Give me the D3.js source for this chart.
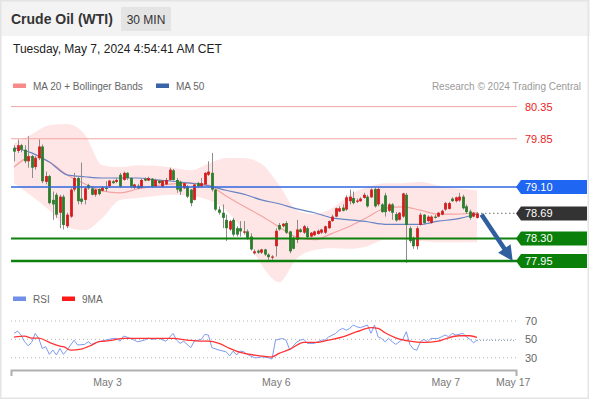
<!DOCTYPE html>
<html><head><meta charset="utf-8">
<script src="https://cdn.jsdelivr.net/npm/d3@7"></script>
<style>body{margin:0;background:#fff}svg{display:block;font-family:"Liberation Sans",Arial,sans-serif}</style>
</head><body><svg id="c" width="590" height="400"></svg>
<script>
// ---- candle data (30 min) ----
const open = [79.71,79.66,79.75,79.68,79.50,79.58,79.41,79.55,79.73,79.18,79.27,78.90,78.98,78.70,78.95,78.49,78.64,79.06,79.24,78.92,78.90,79.13,79.08,78.98,79.07,79.04,79.09,79.11,79.19,79.18,79.29,79.21,79.32,79.24,79.09,79.12,79.09,79.23,79.20,79.23,79.11,79.20,79.11,79.14,79.21,79.36,79.21,79.18,79.08,79.11,79.06,78.90,79.16,79.11,79.14,79.29,79.32,79.06,78.75,78.70,78.59,78.44,78.59,78.46,78.46,78.39,78.41,78.33,78.07,78.11,78.08,78.13,78.05,78.00,78.18,78.51,78.49,78.54,78.41,78.31,78.28,78.44,78.39,78.46,78.33,78.35,78.37,78.39,78.39,78.46,78.57,78.64,78.72,78.78,78.75,78.88,78.93,78.87,78.88,78.93,78.95,78.94,79.07,78.83,78.83,78.97,78.73,78.83,78.68,78.59,78.64,78.98,78.46,78.31,78.18,78.51,78.67,78.57,78.54,78.64,78.64,78.67,78.75,78.76,78.92,78.88,78.89,78.95,78.80,78.72,78.64,78.62];
const high = [79.75,79.84,79.77,79.75,79.89,79.60,79.58,79.84,79.76,79.34,79.29,79.03,79.01,78.98,78.98,78.70,79.08,79.32,79.27,79.48,79.11,79.15,79.11,79.07,79.08,79.11,79.19,79.21,79.21,79.24,79.32,79.34,79.33,79.25,79.15,79.15,79.23,79.25,79.26,79.24,79.23,79.21,79.21,79.24,79.40,79.38,79.24,79.20,79.18,79.13,79.07,79.15,79.18,79.24,79.33,79.50,79.63,79.07,78.80,78.83,78.67,78.59,78.62,78.49,78.57,78.57,78.44,78.38,78.13,78.13,78.14,78.14,78.07,78.04,78.46,78.54,78.54,78.57,78.42,78.33,78.59,78.46,78.51,78.49,78.40,78.42,78.44,78.45,78.50,78.58,78.67,78.78,78.80,78.83,78.97,79.06,79.03,78.92,78.94,79.01,78.98,79.08,79.09,79.09,78.85,79.01,78.85,78.85,78.71,78.71,79.01,79.01,78.49,78.33,78.49,78.70,78.68,78.66,78.66,78.67,78.71,78.75,78.87,78.87,78.94,78.95,79.01,78.98,78.83,78.75,78.71,78.71];
const low = [79.50,79.63,79.64,79.47,79.40,79.24,79.37,79.52,79.16,79.14,78.83,78.59,78.62,78.46,78.44,78.46,78.62,79.03,78.83,78.83,78.83,79.06,78.97,78.95,78.97,79.03,79.03,79.09,79.15,79.16,79.09,79.20,79.21,79.08,79.07,79.07,79.08,79.19,79.19,79.09,79.10,79.15,79.09,79.13,79.20,79.20,79.01,78.98,79.07,78.93,78.80,78.89,79.09,79.10,79.13,79.27,79.03,78.73,78.67,78.46,78.26,78.42,78.33,78.33,78.33,78.36,78.28,78.11,78.05,78.06,78.06,78.03,77.97,77.97,78.02,78.42,78.47,78.37,78.07,78.13,78.23,78.39,78.37,78.31,78.32,78.34,78.36,78.37,78.37,78.45,78.56,78.63,78.71,78.72,78.73,78.83,78.83,78.85,78.87,78.92,78.78,78.93,78.78,78.80,78.70,78.64,78.71,78.59,78.56,78.58,78.62,77.92,78.23,78.14,78.13,78.50,78.52,78.56,78.53,78.61,78.63,78.66,78.73,78.75,78.87,78.86,78.87,78.75,78.68,78.59,78.63,78.61];
const close = [79.65,79.75,79.68,79.50,79.58,79.40,79.55,79.73,79.19,79.27,78.85,78.83,78.67,78.95,78.51,78.67,79.06,79.24,78.88,78.87,79.08,79.08,78.98,79.06,78.99,79.09,79.07,79.20,79.16,79.21,79.11,79.32,79.24,79.11,79.14,79.08,79.21,79.20,79.24,79.11,79.21,79.16,79.20,79.21,79.37,79.21,79.06,79.03,79.16,78.95,78.85,79.14,79.11,79.16,79.32,79.34,79.06,78.75,78.70,78.62,78.46,78.57,78.36,78.36,78.41,78.41,78.31,78.13,78.10,78.08,78.13,78.05,78.01,78.02,78.42,78.44,78.53,78.39,78.10,78.14,78.44,78.40,78.49,78.32,78.39,78.41,78.42,78.44,78.49,78.57,78.64,78.77,78.77,78.73,78.94,78.95,78.85,78.89,78.92,78.98,78.80,79.06,78.80,79.07,78.71,78.71,78.83,78.70,78.58,78.70,79.00,78.51,78.26,78.18,78.46,78.67,78.54,78.64,78.64,78.62,78.70,78.73,78.85,78.85,78.88,78.94,78.95,78.77,78.71,78.62,78.70,78.69];

// ---- indicators (sampled at candle indices) ----
const maIdx   = [0,5,10,15,20,25,30,35,40,45,50,55,60,65,70,75,80,85,90,95,100,105,110,115,120,125,131];
const bbUpper = [79.78,79.92,80.06,80.08,79.92,79.44,79.41,79.44,79.43,79.40,79.36,79.46,79.55,79.55,79.46,79.13,78.74,78.68,78.77,78.98,79.10,79.16,79.16,79.18,79.12,79.08,79.05];
const ma20    = [79.41,79.57,79.49,79.29,79.15,79.04,79.01,79.07,79.12,79.15,79.16,79.13,78.96,78.80,78.65,78.48,78.32,78.28,78.38,78.49,78.63,78.77,78.79,78.74,78.68,78.68,78.70];
const bbLower = [79.16,78.96,78.74,78.48,78.43,78.62,78.90,78.93,78.96,78.98,78.96,78.90,78.74,78.40,77.89,77.62,77.99,78.12,78.15,78.14,78.18,78.28,78.28,78.26,78.24,78.24,78.24];
const ma50    = [79.71,79.63,79.49,79.29,79.26,79.24,79.24,79.24,79.21,79.19,79.16,79.12,79.05,78.99,78.90,78.84,78.76,78.70,78.62,78.59,78.56,78.52,78.52,78.52,78.57,78.60,78.68];

const rsiIdx = [0,1,2,3,4,5,6,7,8,9,10,11,12,13,14,15,16,17,18,20,21,22,24,26,28,29,30,31,33,35,37,38,39,41,43,45,46,47,48,50,51,53,54,55,56,58,60,61,62,63,64,65,66,68,69,70,72,73,74,76,77,78,80,81,82,83,85,87,88,89,91,92,93,94,95,96,97,98,100,101,102,103,104,105,106,107,108,110,111,112,113,114,115,116,117,118,120,121,122,123,124,125,127,128,129,130,131];
const rsi = [56.5,59,54.7,47.4,43,46.7,56.5,51,40,42,33.6,38.3,33,40,33.6,38.3,43.8,49,43.8,44.5,47.4,44.5,47.4,49.2,51,51,48,53.6,51,47.4,49.2,51.4,50,51,48,56.5,49.2,45.6,48,40.9,48,50,55.5,54.7,40.9,38.3,36.5,32,37.2,33,37.2,36.5,33.6,30,30,31,30,28.5,49.2,51,49,38.5,47,49.2,50,45.6,45.6,49.2,49.2,52.5,56.5,60,62,60,62,65.6,63.7,62.7,65.6,56.5,65.6,52.8,51,47.4,51,47.4,44.5,50,58.3,44.5,39.4,38.3,47.4,50,47.4,51,51,52.8,54.7,52.8,56.5,54.7,56.5,52.8,50,46.3,49];
const rsiMaIdx = [0,3,5,7,10,13,14,16,19,22,24,27,31,36,40,45,49,53,55,58,61,64,68,73,75,78,82,86,89,93,97,101,103,105,108,112,116,120,122,126,129,131];
const rsiMa = [52.5,53.6,51.4,51.4,46.7,42.7,42,38.3,39.4,43.8,47.4,48.5,51,51,51,51,49.2,48,48,45.6,40.2,35.8,32.9,31,34.7,39,46.7,46.7,49.2,52.8,58.3,62.7,62,57.2,51.7,48,46.7,48,50.5,53.9,53.9,52.2];
const rsiLevels = [70, 50, 30];

// ---- levels & axis ----
const levelValues = [80.35, 79.85, 79.10, 78.69, 78.30, 77.95];
const levelKinds  = ['res', 'res', 'pivot', 'last', 'sup', 'sup'];
const targetValue = 77.95;
const tickPos    = [26.3, 74.1, 122, 141.1];
const tickLabels = ['May 3', 'May 6', 'May 7', 'May 17'];

// ---- drawing ----
const svg = d3.select('#c');
const W = 590, H = 400;
const x  = d3.scaleLinear().domain([0, 131]).range([14, 477]);
const xa = d3.scaleLinear().domain([x.invert(11), x.invert(516)]).range([11, 516]);
const y  = d3.scaleLinear().domain([77.95, 80.35]).range([261, 106.6]);
const yr = d3.scaleLinear().domain([30, 70]).range([357.7, 321]);

svg.append('rect').attr('width', W).attr('height', H).attr('fill', '#fff');
svg.append('rect').attr('width', W).attr('height', 36).attr('fill', '#f3f3f3');
svg.append('rect').attr('x', 0.75).attr('y', 0.75).attr('width', W - 2.5).attr('height', H - 2.5)
  .attr('fill', 'none').attr('stroke', '#e4e4e4').attr('stroke-width', 1.5);

// header
svg.append('text').attr('x', 11).attr('y', 23.5).attr('font-size', 14).attr('font-weight', 'bold')
  .attr('fill', '#333').text('Crude Oil (WTI)');
svg.append('rect').attr('x', 121).attr('y', 7).attr('width', 50).attr('height', 24).attr('fill', '#e4e4e4');
svg.append('text').attr('x', 146).attr('y', 23.5).attr('font-size', 12).attr('text-anchor', 'middle')
  .attr('fill', '#333').text('30 MIN');
svg.append('text').attr('x', 13).attr('y', 52.5).attr('font-size', 12).attr('fill', '#222')
  .text('Tuesday, May 7, 2024 4:54:41 AM CET');

// legend
function legendItem(x0, yb, color, label) {
  svg.append('rect').attr('x', x0).attr('y', yb - 6).attr('width', 13).attr('height', 4.5).attr('fill', color);
  svg.append('text').attr('x', x0 + 20).attr('y', yb).attr('font-size', 10).attr('fill', '#666').text(label);
}
legendItem(13, 89.5, '#f88a8a', 'MA 20 + Bollinger Bands');
legendItem(156, 89.5, '#3b63a8', 'MA 50');
svg.append('text').attr('x', 581).attr('y', 89.5).attr('font-size', 10).attr('fill', '#9a9a9a')
  .attr('text-anchor', 'end').text('Research \u00a9 2024 Trading Central');

// bollinger band
const bbData = maIdx.map((d, i) => ({i: d, u: bbUpper[i], m: ma20[i], l: bbLower[i], s: ma50[i]}));
const curve = d3.curveMonotoneX;
svg.append('path').datum(bbData)
  .attr('d', d3.area().curve(curve).x(d => x(d.i)).y0(d => y(d.l)).y1(d => y(d.u)))
  .attr('fill', '#fee6e6');
svg.append('path').datum(bbData)
  .attr('d', d3.line().curve(curve).x(d => x(d.i)).y(d => y(d.m)))
  .attr('fill', 'none').attr('stroke', '#f4a3a3').attr('stroke-width', 1.2);
svg.append('path').datum(bbData)
  .attr('d', d3.line().curve(curve).x(d => x(d.i)).y(d => y(d.s)))
  .attr('fill', 'none').attr('stroke', '#6784c4').attr('stroke-width', 1.2);

// candles
const idx = d3.range(close.length);
svg.append('g').selectAll('line').data(idx).join('line')
  .attr('x1', i => Math.round(x(i)) + 0.5).attr('x2', i => Math.round(x(i)) + 0.5)
  .attr('y1', i => y(high[i])).attr('y2', i => y(low[i]))
  .attr('stroke', '#8c8c8c').attr('stroke-width', 1);
svg.append('g').selectAll('rect').data(idx).join('rect')
  .attr('x', i => Math.round(x(i)) - 0.9).attr('width', 2.8)
  .attr('y', i => y(Math.max(open[i], close[i])))
  .attr('height', i => Math.max(1, Math.abs(y(open[i]) - y(close[i]))))
  .attr('fill', i => close[i] >= open[i] ? '#d41c1c' : '#2b7d2b');

// level lines
const lastX = x(close.length - 1) + 4;
const levelStyle = {
  res:   {stroke: '#f3a5a5', w: 1,   dash: null},
  pivot: {stroke: '#2f67de', w: 1.5, dash: null},
  last:  {stroke: '#8a8a8a', w: 1.2, dash: '1.5,2.5'},
  sup:   {stroke: '#0d800d', w: 2,   dash: null}
};
levelValues.forEach((v, k) => {
  const st = levelStyle[levelKinds[k]];
  const x1 = levelKinds[k] === 'last' ? lastX : 11;
  const w = (k === 5) ? 2.6 : st.w;
  svg.append('line').attr('x1', x1).attr('x2', 517).attr('y1', y(v)).attr('y2', y(v))
    .attr('stroke', st.stroke).attr('stroke-width', w).attr('stroke-dasharray', st.dash);
});

// right labels
const boxFill = {pivot: '#1f66f2', last: '#333333', sup: '#0a800a'};
levelValues.forEach((v, k) => {
  const kind = levelKinds[k];
  const yc = y(v);
  if (kind === 'res') {
    svg.append('text').attr('x', 525).attr('y', yc + 4).attr('font-size', 11).attr('fill', '#ec1c24')
      .text(v.toFixed(2));
  } else {
    const p = d3.path();
    p.moveTo(516, yc); p.lineTo(521, yc - 7); p.lineTo(587, yc - 7); p.lineTo(587, yc + 7); p.lineTo(521, yc + 7); p.closePath();
    svg.append('path').attr('d', p.toString()).attr('fill', boxFill[kind]);
    svg.append('text').attr('x', 525).attr('y', yc + 4).attr('font-size', 11).attr('fill', '#fff')
      .text(v.toFixed(2));
  }
});

// forecast arrow
(function () {
  const x0 = x(close.length - 1) + 4.5, y0 = y(close[close.length - 1]) + 1;
  const x1 = x(141.1), y1 = y(targetValue);
  const dx = x1 - x0, dy = y1 - y0, L = Math.hypot(dx, dy), ux = dx / L, uy = dy / L;
  const hl = 15, hw = 7.5;
  const bx = x1 - ux * hl, by = y1 - uy * hl;
  svg.append('line').attr('x1', x0).attr('y1', y0).attr('x2', bx + ux * 2).attr('y2', by + uy * 2)
    .attr('stroke', '#2f5f9e').attr('stroke-width', 4.5);
  svg.append('path').attr('d', `M${x1},${y1}L${bx - uy * hw},${by + ux * hw}L${bx + uy * hw},${by - ux * hw}Z`)
    .attr('fill', '#2f5f9e');
})();

// RSI panel
legendItem(13, 302.5, '#6f8fe8', 'RSI');
legendItem(62, 302.5, '#ff1a1a', '9MA');
rsiLevels.forEach(v => {
  svg.append('line').attr('x1', 11).attr('x2', 516).attr('y1', yr(v)).attr('y2', yr(v))
    .attr('stroke', '#b5b5b5').attr('stroke-width', 1).attr('stroke-dasharray', '1,3');
  svg.append('text').attr('x', 525).attr('y', yr(v) + 4).attr('font-size', 11).attr('fill', '#666').text(v);
});
svg.append('path').datum(rsiIdx.map((d, i) => [d, rsi[i]]))
  .attr('d', d3.line().x(d => x(d[0])).y(d => yr(d[1])))
  .attr('fill', 'none').attr('stroke', '#7d9bf0').attr('stroke-width', 1);
svg.append('line').attr('x1', x(rsiIdx[rsiIdx.length - 1])).attr('x2', 516)
  .attr('y1', yr(rsi[rsi.length - 1])).attr('y2', yr(rsi[rsi.length - 1]))
  .attr('stroke', '#7d8fb8').attr('stroke-width', 1).attr('stroke-dasharray', '1,2');
svg.append('path').datum(rsiMaIdx.map((d, i) => [d, rsiMa[i]]))
  .attr('d', d3.line().curve(d3.curveMonotoneX).x(d => x(d[0])).y(d => yr(d[1])))
  .attr('fill', 'none').attr('stroke', '#ff3333').attr('stroke-width', 1.3);

// x axis
const ax = svg.append('g').attr('transform', 'translate(0,370)')
  .call(d3.axisBottom(xa).tickValues(tickPos).tickFormat((d, i) => tickLabels[i])
    .tickSizeInner(0).tickSizeOuter(6).tickPadding(9));
ax.select('.domain').attr('stroke', '#b0b0b0').attr('stroke-width', 2);
ax.selectAll('text').attr('font-size', 10.5).attr('fill', '#777').attr('font-family', '"Liberation Sans",Arial,sans-serif');
</script></body></html>
